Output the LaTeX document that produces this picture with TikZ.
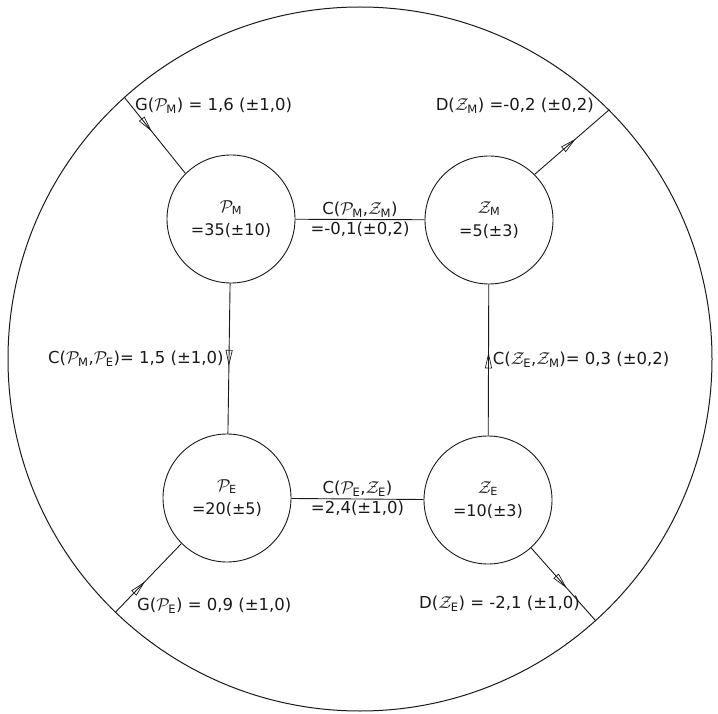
\documentclass[tikz,border=0pt]{standalone}
\usepackage{amsmath}
\usepackage{fontspec}
\setmainfont{DejaVu Sans}
\usetikzlibrary{arrows.meta, decorations.markings}
\definecolor{inkc}{RGB}{25,25,25}
\tikzset{
  pool/.style={circle, draw=inkc, line width=0.9pt, minimum size=128pt,
               inner sep=0pt, align=center, text=inkc,
               font=\fontsize{16}{23}\selectfont},
  link/.style={draw=inkc, line width=0.9pt},
  flow/.style={link, postaction={decorate},
    decoration={markings, mark=at position #1 with
      {\arrow{Triangle[open, length=16pt, width=7pt, line width=0.7pt]}}}},
  flow/.default=0.5,
  lbl/.style={font=\fontsize{16.5}{21}\selectfont, text=inkc, inner sep=2pt},
}
\newcommand{\pool}[2]{$\mathcal{#1}_{\text{#2}}$}

\begin{document}
\begin{tikzpicture}[x=1pt, y=-1pt]
  \useasboundingbox (0,0) rectangle (718,714);
  % the whole system
  \node[circle, draw=inkc, line width=1pt, minimum size=704pt, inner sep=0pt] (env) at (360,359) {};
  % the four pools
  \node[pool] (pm) at (231,219) {\pool{P}{M}\\=35(±10)};
  \node[pool] (zm) at (489,220) {\pool{Z}{M}\\=5(±3)};
  \node[pool] (pe) at (227,498) {\pool{P}{E}\\=20(±5)};
  \node[pool] (ze) at (488,500) {\pool{Z}{E}\\=10(±3)};
  % exchanges between pools
  \draw[link] (pm) -- (zm)
    node[lbl, midway, above] {C(\pool{P}{M},\pool{Z}{M})}
    node[lbl, midway, below] {=-0,1(±0,2)};
  \draw[link] (pe) -- (ze)
    node[lbl, midway, above] {C(\pool{P}{E},\pool{Z}{E})}
    node[lbl, midway, below] {=2,4(±1,0)};
  \draw[flow=0.55] (pm) -- (pe)
    node[lbl, pos=0.5, left, xshift=-3pt] {C(\pool{P}{M},\pool{P}{E})= 1,5 (±1,0)};
  \draw[flow=0.55] (ze) -- (zm)
    node[lbl, pos=0.5, right, xshift=2pt] {C(\pool{Z}{E},\pool{Z}{M})= 0,3 (±0,2)};
  % exchanges with the outside
  \draw[flow=0.45] (env.132.7) -- (pm.135);
  \draw[flow=0.55] (zm.45) -- (env.45.8);
  \draw[flow=0.45] (env.226) -- (pe.225);
  \draw[flow=0.55] (ze.312) -- (env.312);
  \node[lbl, anchor=west] (gpm) at (133,106) {G(\pool{P}{M}) = 1,6 (±1,0)};
  \node[lbl, anchor=east] (dzm) at (596,106) {D(\pool{Z}{M}) =-0,2 (±0,2)};
  \node[lbl, anchor=west] (gpe) at (135,606) {G(\pool{P}{E}) = 0,9 (±1,0)};
  \node[lbl, anchor=east] (dze) at (582,604) {D(\pool{Z}{E}) = -2,1 (±1,0)};
\end{tikzpicture}
\end{document}
